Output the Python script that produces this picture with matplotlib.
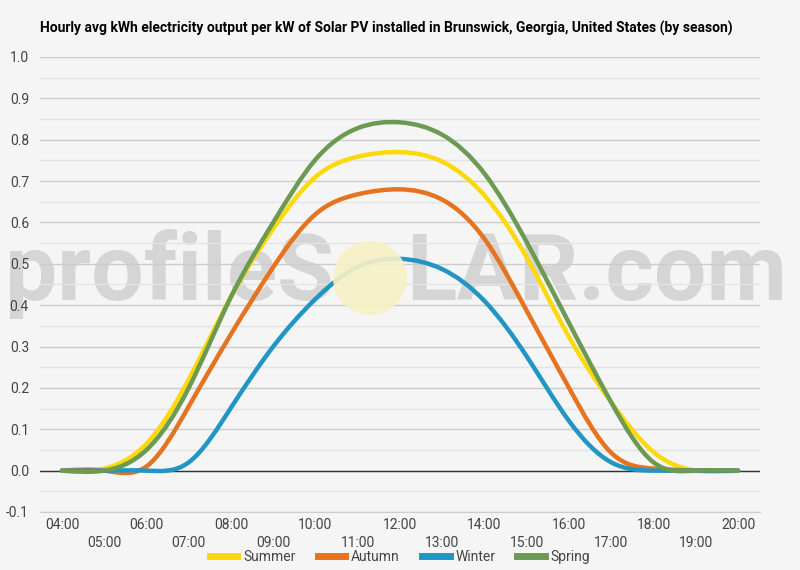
import numpy as np
import matplotlib
matplotlib.use('Agg')
import matplotlib.pyplot as plt
from matplotlib.path import Path
from matplotlib.patches import PathPatch, Circle
from matplotlib.lines import Line2D
from matplotlib.ticker import MultipleLocator

plt.rcParams['font.family'] = ['Roboto', 'DejaVu Sans']

hours = [4, 5, 6, 7, 8, 9, 10, 11, 12, 13, 14, 15, 16, 17, 18, 19, 20]
summer = [0.0, 0.005, 0.065, 0.22, 0.42, 0.585, 0.71, 0.759, 0.77, 0.747, 0.665, 0.515, 0.323, 0.165, 0.045, 0.0, 0.0]
autumn = [0.0, 0.0, 0.01, 0.155, 0.33, 0.492, 0.62, 0.668, 0.68, 0.655, 0.56, 0.386, 0.2, 0.043, 0.005, 0.0, 0.0]
winter = [0.0, 0.0, 0.0, 0.02, 0.152, 0.30, 0.415, 0.493, 0.512, 0.487, 0.41, 0.276, 0.12, 0.02, 0.0, 0.0, 0.0]
spring = [0.0, 0.0, 0.05, 0.20, 0.42, 0.60, 0.752, 0.828, 0.842, 0.812, 0.718, 0.552, 0.357, 0.165, 0.02, 0.0, 0.0]

series = [('Summer', summer, '#fdd80a'),
          ('Autumn', autumn, '#e5731f'),
          ('Winter', winter, '#2196c4'),
          ('Spring', spring, '#6c9a52')]

title = 'Hourly avg kWh electricity output per kW of Solar PV installed in Brunswick, Georgia, United States (by season)'


def smooth_path(x, y):
    # natural cubic spline through the hourly points, drawn as bezier segments
    x = np.asarray(x, float)
    y = np.asarray(y, float)
    n = len(x)
    h = np.diff(x)
    A = np.zeros((n, n))
    b = np.zeros(n)
    A[0, 0] = A[-1, -1] = 1
    for i in range(1, n - 1):
        A[i, i - 1] = h[i - 1]
        A[i, i] = 2 * (h[i - 1] + h[i])
        A[i, i + 1] = h[i]
        b[i] = 3 * ((y[i + 1] - y[i]) / h[i] - (y[i] - y[i - 1]) / h[i - 1])
    c = np.linalg.solve(A, b)
    m = np.zeros(n)
    for i in range(n - 1):
        m[i] = (y[i + 1] - y[i]) / h[i] - h[i] * (2 * c[i] + c[i + 1]) / 3
    m[-1] = (y[-1] - y[-2]) / h[-1] + h[-1] * (c[-2] + 2 * c[-1]) / 3
    verts = [(x[0], y[0])]
    codes = [Path.MOVETO]
    for i in range(n - 1):
        verts += [(x[i] + h[i] / 3, y[i] + m[i] * h[i] / 3),
                  (x[i + 1] - h[i] / 3, y[i + 1] - m[i + 1] * h[i] / 3),
                  (x[i + 1], y[i + 1])]
        codes += [Path.CURVE4] * 3
    return Path(verts, codes)


bg = '#f5f5f5'
fig = plt.figure(figsize=(8, 5.7), dpi=100, facecolor=bg)
ax = fig.add_axes([0.05, 0.1018, 0.9, 0.7982])
ax.set_facecolor(bg)

ax.set_xlim(3.48, 20.52)
ax.set_ylim(-0.1, 1.0)

# watermark
wm = dict(transform=fig.transFigure, fontsize=67, fontweight='bold', color='#cdcdcd',
          alpha=0.8, va='baseline', zorder=0.5)
ax.text(334 / 800, 1 - 300 / 570, 'profileS', ha='right', **wm)
ax.text(406 / 800, 1 - 300 / 570, 'LAR.com', ha='left', **wm)
fig.patches.append(Circle((370, 570 - 278), 37, transform=None, facecolor='#f8f1c6',
                          edgecolor='none', alpha=0.9, zorder=0.4))

ax.yaxis.set_major_locator(MultipleLocator(0.1))
ax.yaxis.set_minor_locator(MultipleLocator(0.05))
ax.grid(which='major', axis='y', color='#cccccc', linewidth=1, zorder=1)
ax.grid(which='minor', axis='y', color='#e4e4e4', linewidth=1, zorder=1)
ax.axhline(0, color='#333333', linewidth=1, zorder=2)

for name, vals, col in series:
    ax.add_patch(PathPatch(smooth_path(hours, vals), facecolor='none', edgecolor=col,
                           linewidth=3.2, capstyle='round', zorder=3))

for s in ['top', 'right', 'left']:
    ax.spines[s].set_visible(False)
ax.spines['bottom'].set_color('#cccccc')

ax.set_yticks(np.round(np.arange(-0.1, 1.01, 0.1), 1))
ax.set_yticklabels(['%.1f' % v for v in np.arange(-0.1, 1.01, 0.1)])
ax.tick_params(axis='y', which='both', length=0, pad=8, labelsize=10, labelcolor='#444444')
ax.set_xticks(hours)
ax.set_xticklabels(['%02d:00' % h if i % 2 == 0 else '\n%02d:00' % h for i, h in enumerate(hours)],
                   linespacing=1.45)
ax.tick_params(axis='x', length=0, pad=4, labelsize=10, labelcolor='#444444')

fig.text(40 / 800, 1 - 28 / 570, title, fontsize=10, fontweight='bold', color='#000000',
         ha='left', va='center')

handles = [Line2D([], [], color=c, linewidth=5) for _, _, c in series]
fig.legend(handles, [n for n, _, _ in series], loc='center', bbox_to_anchor=(0.5, 1 - 557 / 570),
           ncol=4, frameon=False, fontsize=10, handlelength=2.0, columnspacing=1.6,
           handletextpad=0.4, labelcolor='#444444')

fig.savefig('out.png', dpi=100, facecolor=bg)
